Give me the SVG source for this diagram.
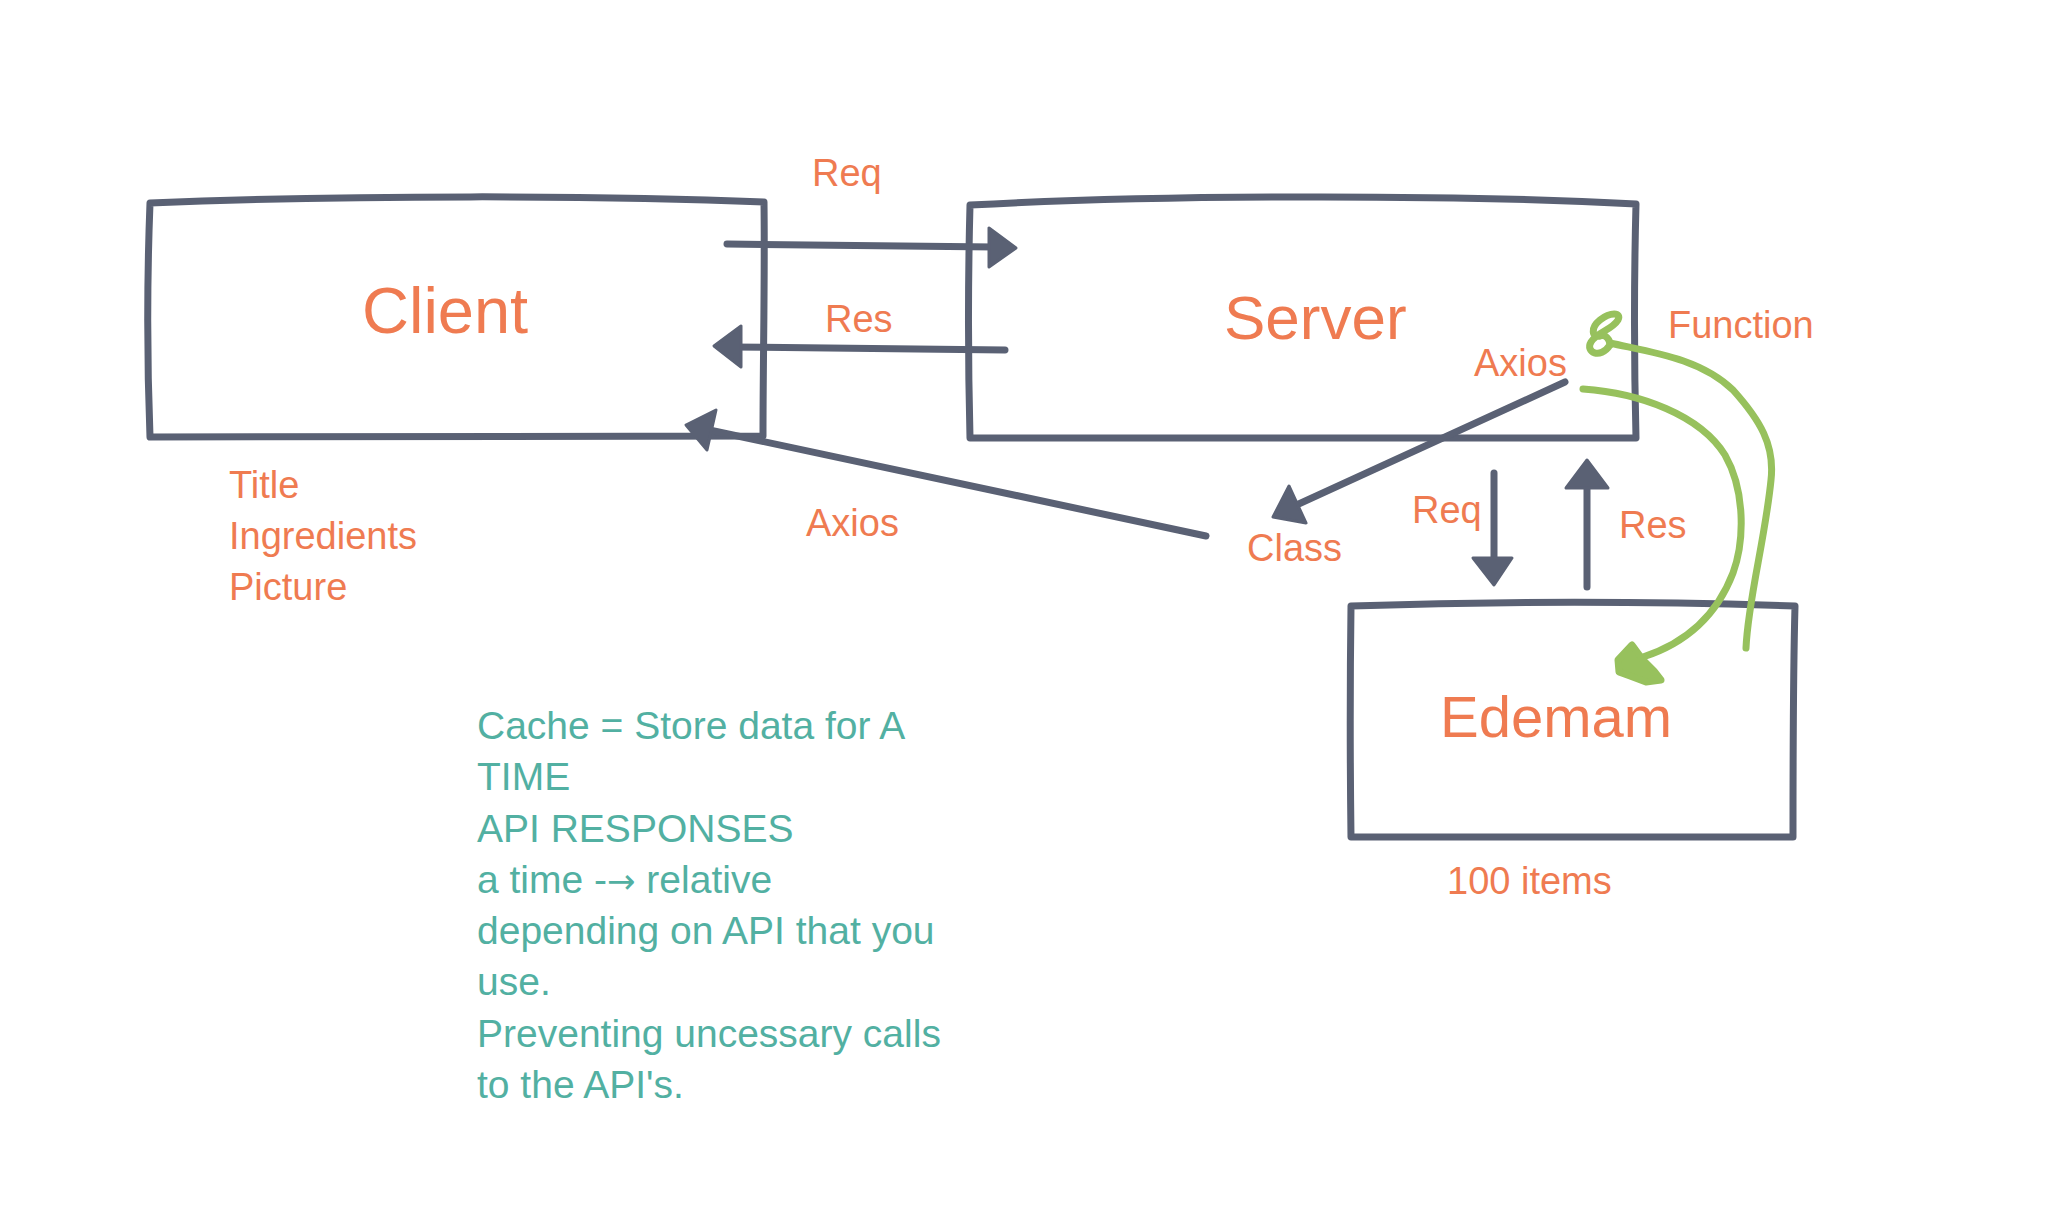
<svg xmlns="http://www.w3.org/2000/svg" width="2066" height="1226" viewBox="0 0 2066 1226">
<style>
.box{fill:none;stroke:#5a6174;stroke-width:7;stroke-linejoin:round;stroke-linecap:round}
.ln{fill:none;stroke:#5a6174;stroke-width:7;stroke-linecap:round}
.hd{fill:#5a6174;stroke:#5a6174;stroke-width:3;stroke-linejoin:round}
.gr{fill:none;stroke:#97c15d;stroke-width:7;stroke-linecap:round;stroke-linejoin:round}
.o{fill:#ef7b51;font-family:"Liberation Sans",Arial,sans-serif;font-size:38px}
.big{fill:#ef7b51;font-family:"Liberation Sans",Arial,sans-serif}
.t{fill:#52b0a2;font-family:"Liberation Sans",Arial,sans-serif;font-size:39px}
.ar{font-family:"DejaVu Sans",sans-serif;font-size:34px}
</style>
<rect width="2066" height="1226" fill="#ffffff"/>
<g id="client">
<path class="box" d="M150,203 C350,195 600,195 764,202 C765,280 763,360 763,436 L150,437 C147,360 147,280 150,203 Z"/>
<text class="big" x="362" y="333" font-size="65">Client</text>
</g>
<g id="server">
<path class="box" d="M970,205 C1150,195 1450,194 1636,204 C1634,280 1634,360 1636,438 L970,438 C968,360 968,280 970,205 Z"/>
<text class="big" x="1224" y="339" font-size="62">Server</text>
</g>
<g id="edemam">
<path class="box" d="M1351,606 C1500,601 1650,601 1795,606 C1793,680 1793,760 1793,837 L1351,837 C1350,760 1350,680 1351,606 Z"/>
<text class="big" x="1440" y="737" font-size="58">Edemam</text>
</g>
<g id="connectors">
<path class="ln" d="M727,244 L995,247"/>
<polygon class="hd" points="1016,248 989,228 989,267"/>
<path class="ln" d="M1005,350 L730,347"/>
<polygon class="hd" points="714,346 741,326 741,367"/>
<path class="ln" d="M1206,536 L700,428"/>
<polygon class="hd" points="686,425 716,410 707,450"/>
<path class="ln" d="M1565,382 L1290,508"/>
<polygon class="hd" points="1273,517 1289,486 1306,523"/>
<path class="ln" d="M1494,473 L1494,565"/>
<polygon class="hd" points="1494,585 1473,558 1512,558"/>
<path class="ln" d="M1587,587 L1587,480"/>
<polygon class="hd" points="1587,460 1566,488 1608,488"/>
<path class="gr" d="M1610,343 C1650,352 1700,358 1733,390 C1760,420 1775,445 1771,480 C1765,540 1748,600 1746,648"/>
<path class="gr" d="M1610,345 C1600,360 1585,352 1591,342 C1597,332 1612,330 1618,320 C1622,312 1610,312 1600,320 C1590,328 1592,338 1600,336 C1606,334 1610,340 1610,345"/>
<path class="gr" d="M1583,389 C1640,393 1700,415 1725,455 C1745,490 1745,540 1733,573 C1715,620 1680,645 1643,657"/>
<path class="gr" style="fill:#97c15d" d="M1632,645 L1618,660 L1619,672 L1630,676 L1646,682 L1661,680 L1654,671 L1643,660 Z"/>
</g>
<g id="labels">
<text class="o" x="812" y="186">Req</text>
<text class="o" x="825" y="332">Res</text>
<text class="o" x="806" y="536">Axios</text>
<text class="o" x="1474" y="376">Axios</text>
<text class="o" x="1247" y="561">Class</text>
<text class="o" x="1412" y="523">Req</text>
<text class="o" x="1619" y="538">Res</text>
<text class="o" x="1668" y="338">Function</text>
<text class="o" x="1447" y="894">100 items</text>
<text class="o" x="229" y="498">Title</text>
<text class="o" x="229" y="549">Ingredients</text>
<text class="o" x="229" y="600">Picture</text>
</g>
<g id="note">
<text class="t" x="477" y="739">Cache = Store data for A</text>
<text class="t" x="477" y="790">TIME</text>
<text class="t" x="477" y="842">API RESPONSES</text>
<text class="t" x="477" y="893">a time -<tspan class="ar">→</tspan> relative</text>
<text class="t" x="477" y="944">depending on API that you</text>
<text class="t" x="477" y="995">use.</text>
<text class="t" x="477" y="1047">Preventing uncessary calls</text>
<text class="t" x="477" y="1098">to the API's.</text>
</g>
</svg>
